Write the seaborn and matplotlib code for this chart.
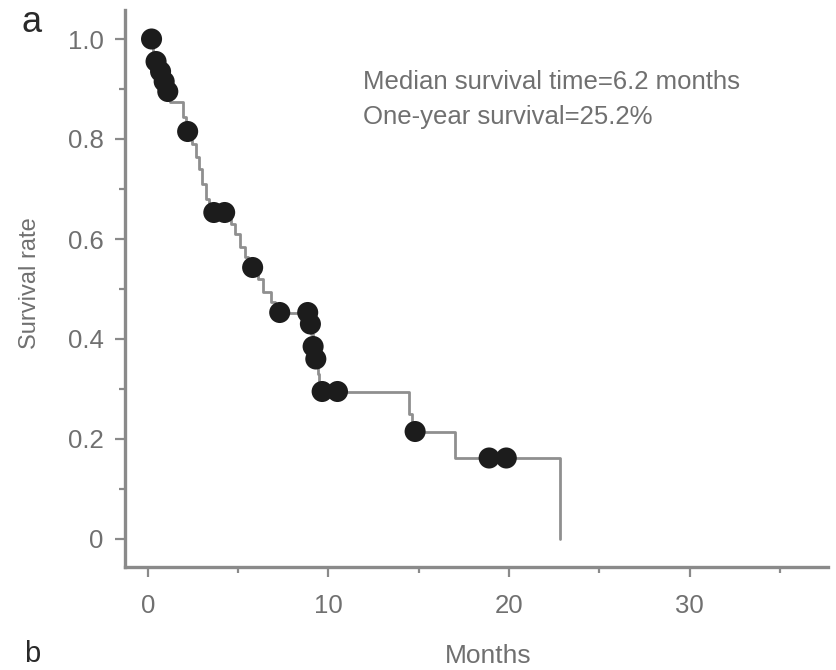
import numpy as np
import pandas as pd
import matplotlib
matplotlib.use("Agg")
import matplotlib.pyplot as plt
import seaborn as sns

# Kaplan-Meier steps (time in months, survival after the step)
step_months = [0, 0.3, 0.55, 0.8, 1.0, 1.2, 1.95, 2.1, 2.45, 2.65, 2.85, 3.0, 3.2, 3.4,
               4.6, 4.85, 5.1, 5.35, 5.55, 6.1, 6.4, 6.8, 7.05, 8.95, 9.05, 9.15, 9.25,
               9.4, 9.5, 14.45, 14.65, 17.0, 22.8]
step_surv = [1.0, 0.955, 0.935, 0.915, 0.895, 0.875, 0.845, 0.815, 0.79, 0.765, 0.74, 0.71,
             0.68, 0.653, 0.63, 0.61, 0.585, 0.565, 0.543, 0.52, 0.495, 0.475, 0.453, 0.43,
             0.41, 0.385, 0.36, 0.33, 0.295, 0.25, 0.215, 0.162, 0.0]

# censored observations
censor_months = [0.2, 0.45, 0.7, 0.9, 1.1, 2.2, 3.65, 4.25, 5.8, 7.3, 8.85, 9.0, 9.15,
                 9.3, 9.65, 10.5, 14.8, 18.9, 19.85]
censor_surv = [1.0, 0.955, 0.935, 0.915, 0.895, 0.815, 0.653, 0.653, 0.543, 0.453, 0.453,
               0.43, 0.385, 0.36, 0.295, 0.295, 0.215, 0.162, 0.162]

note_lines = ["Median survival time=6.2 months", "One-year survival=25.2%"]

sns.set_style("ticks")
plt.rcParams['font.family'] = ['Liberation Sans', 'DejaVu Sans']

grey = "#8a8a8a"
txt = "#707070"

fig = plt.figure(figsize=(8.36, 6.70), dpi=100)
ax = fig.add_axes([125 / 836, 1 - 567 / 670, 703 / 836, 557 / 670])

df_km = pd.DataFrame({"Months": step_months, "Survival rate": step_surv})
df_cens = pd.DataFrame({"Months": censor_months, "Survival rate": censor_surv})

sns.lineplot(data=df_km, x="Months", y="Survival rate", drawstyle="steps-post",
             color="#8f8f8f", linewidth=2.0, ax=ax)
sns.scatterplot(data=df_cens, x="Months", y="Survival rate", s=230, color="#1c1c1c",
                edgecolor="none", ax=ax, zorder=3)

ax.set_xlim(-1.27, 37.67)
ax.set_ylim(-0.056, 1.058)
ax.set_xticks([0, 10, 20, 30])
ax.set_xticks([5, 15, 25, 35], minor=True)
ax.set_yticks([0, 0.2, 0.4, 0.6, 0.8, 1.0])
ax.set_yticklabels(["0", "0.2", "0.4", "0.6", "0.8", "1.0"])
ax.set_yticks(np.arange(0.1, 1.0, 0.2), minor=True)

for s in ["top", "right"]:
    ax.spines[s].set_visible(False)
for s in ["left", "bottom"]:
    ax.spines[s].set_color(grey)
    ax.spines[s].set_linewidth(2.4)

ax.tick_params(axis="both", which="major", length=7.5, width=1.6, color=grey,
               labelsize=18.5, labelcolor=txt)
ax.tick_params(axis="both", which="minor", length=4.5, width=1.6, color=grey)
ax.tick_params(axis="y", which="major", pad=8)
ax.tick_params(axis="x", which="major", pad=12)

ax.set_xlabel("Months", fontsize=19, color=txt)
ax.set_ylabel("Survival rate", fontsize=17, color=txt)
ax.xaxis.set_label_coords(0.516, -0.138)
ax.yaxis.set_label_coords(-0.12, 0.51)

ax.text(0.338, 0.871, note_lines[0], transform=ax.transAxes, fontsize=18.5, color=txt,
        va="center", ha="left")
ax.text(0.338, 0.808, note_lines[1], transform=ax.transAxes, fontsize=18.5, color=txt,
        va="center", ha="left")

fig.text(32 / 836, 1 - 22 / 670, "a", fontsize=26, color="#2a2a2a", ha="center", va="center")
fig.text(32 / 836, 2 / 670, "b", fontsize=21, color="#2a2a2a", ha="center", va="bottom")

fig.savefig("out.png", dpi=100)
